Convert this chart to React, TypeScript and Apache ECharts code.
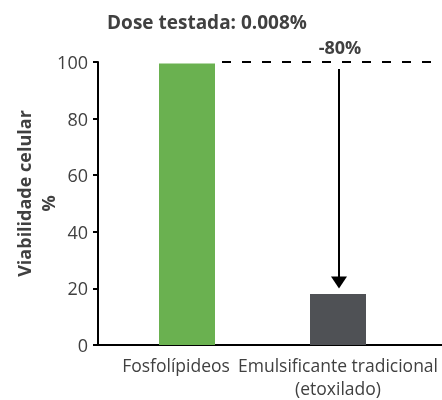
import React, { useEffect, useRef } from "react";
import * as echarts from "echarts";

const categories = ["Fosfolípideos", "Emulsificante tradicional\n(etoxilado)"];
const viability = [99.5, 18];
const barColors = ["#6ab150", "#4f5155"];
const yMin = 0;
const yMax = 100;
const yInterval = 20;
const yAxisNameLines = ["Viabilidade celular", "%"];
const titleText = "Dose testada: 0.008%";
const referenceLevel = 100;
const arrowFrom = 97.5;
const arrowTo = 20;
const changeLabel = "-80%";

const FONT = "'Open Sans', 'Noto Sans', sans-serif";
const TEXT = "#404040";

export default function App() {
  const ref = useRef<HTMLDivElement>(null);
  useEffect(() => {
    if (!ref.current) return;
    const chart = echarts.init(ref.current, null, { renderer: "svg" });
    const barWidth = 56;
    const gridLeft = 111.5;
    const yOffset = 13.5;
    const nameStyle = {
      fontFamily: FONT,
      fontSize: 18,
      fontWeight: "bold",
      color: TEXT,
      lineHeight: 24,
    };
    chart.setOption({
      animation: false,
      grid: {
        left: gridLeft,
        right: 28.5,
        top: 62,
        bottom: 55,
        containLabel: false,
        outerBoundsMode: "none",
      },
      xAxis: {
        type: "category",
        data: categories,
        axisLine: { show: false },
        axisTick: { show: false },
        axisLabel: {
          interval: 0,
          hideOverlap: false,
          margin: 8,
          fontFamily: FONT,
          fontSize: 17.5,
          color: TEXT,
          lineHeight: 23,
          formatter: (v: string, i: number) => (i === 0 ? `{a|${v}}` : v),
          rich: {
            a: {
              fontFamily: FONT,
              fontSize: 17.5,
              color: TEXT,
              lineHeight: 23,
              padding: [0, 22, 0, 0],
            },
          },
        },
      },
      yAxis: {
        type: "value",
        min: yMin,
        max: yMax,
        interval: yInterval,
        offset: yOffset,
        splitLine: { show: false },
        axisLine: { show: true, onZero: false, lineStyle: { color: "#000", width: 2 } },
        axisTick: { show: true, length: 5, lineStyle: { color: "#000", width: 2 } },
        axisLabel: { margin: 10, fontFamily: FONT, fontSize: 18, color: TEXT },
        name: `{a|${yAxisNameLines[0]}}\n{b|${yAxisNameLines[1]}}`,
        nameLocation: "middle",
        nameRotate: 90,
        nameGap: 38,
        nameMoveOverlap: false,
        nameTextStyle: {
          ...nameStyle,
          align: "center",
          rich: {
            a: { ...nameStyle, padding: [0, 0, 0, 20] },
            b: { ...nameStyle },
          },
        },
      },
      series: [
        {
          type: "bar",
          barWidth,
          data: viability.map((v, i) => ({ value: v, itemStyle: { color: barColors[i] } })),
        },
      ],
    });

    const p0 = chart.convertToPixel({ gridIndex: 0 }, [0, referenceLevel]) as number[];
    const p1 = chart.convertToPixel({ gridIndex: 0 }, [1, arrowFrom]) as number[];
    const p2 = chart.convertToPixel({ gridIndex: 0 }, [1, arrowTo]) as number[];
    const pBase = chart.convertToPixel({ gridIndex: 0 }, [0, 0]) as number[];
    const W = chart.getWidth();
    const yAxisX = gridLeft - yOffset;
    const ax = p1[0] + 1;

    chart.setOption({
      graphic: [
        {
          type: "line",
          shape: { x1: yAxisX - 5, y1: pBase[1], x2: W, y2: pBase[1] },
          style: { stroke: "#000", lineWidth: 2 },
        },
        {
          type: "line",
          shape: { x1: p0[0] + barWidth / 2 + 7, y1: p0[1], x2: W, y2: p0[1] },
          style: { stroke: "#000", lineWidth: 2, lineDash: [9, 11] },
        },
        {
          type: "line",
          shape: { x1: ax, y1: p1[1], x2: ax, y2: p2[1] - 10 },
          style: { stroke: "#000", lineWidth: 2 },
        },
        {
          type: "polygon",
          shape: {
            points: [
              [ax - 8, p2[1] - 12],
              [ax + 8, p2[1] - 12],
              [ax, p2[1]],
            ],
          },
          style: { fill: "#000" },
        },
        {
          type: "text",
          x: ax + 1,
          y: p0[1] - 15,
          style: {
            text: changeLabel,
            fontFamily: FONT,
            fontSize: 18,
            fontWeight: "bold",
            fill: TEXT,
            textAlign: "center",
            textVerticalAlign: "middle",
          },
        },
        {
          type: "text",
          x: 207,
          y: 22,
          style: {
            text: titleText,
            fontFamily: FONT,
            fontSize: 19,
            fontWeight: "bold",
            fill: TEXT,
            textAlign: "center",
            textVerticalAlign: "middle",
          },
        },
      ],
    });
    return () => chart.dispose();
  }, []);
  return (
    <div
      ref={ref}
      style={{ position: "fixed", left: 0, top: 0, width: 442, height: 400 }}
    />
  );
}
